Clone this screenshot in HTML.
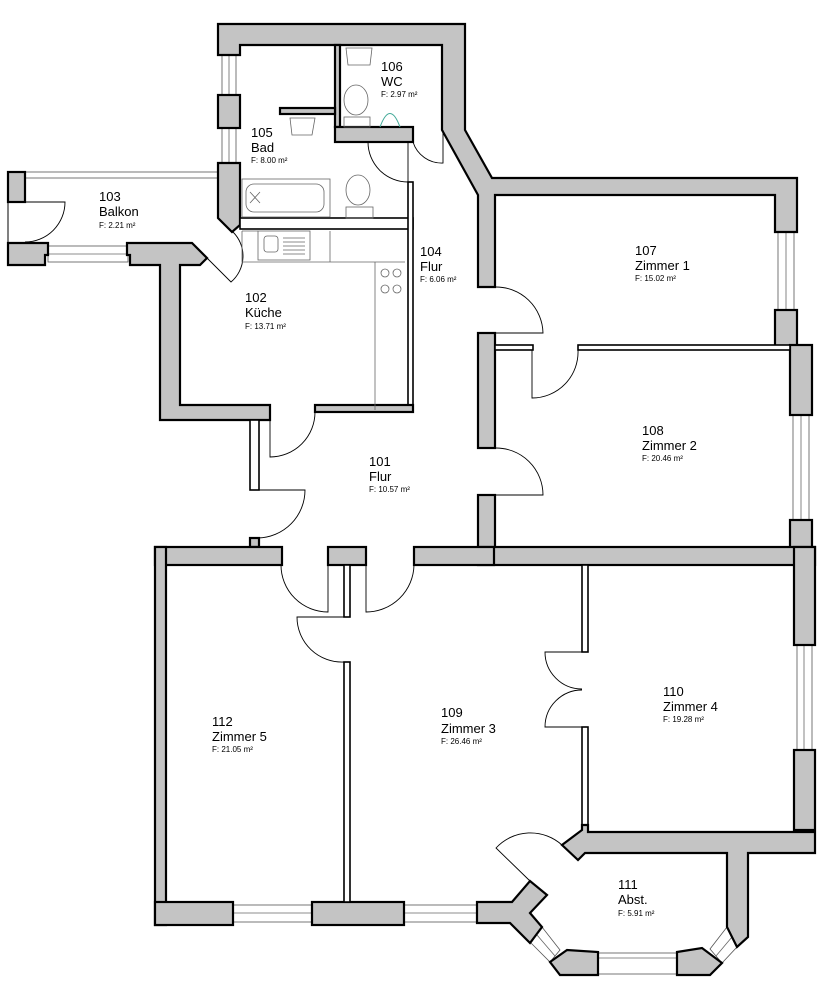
<!DOCTYPE html>
<html><head><meta charset="utf-8"><style>
html,body{margin:0;padding:0;background:#fff;}
svg{display:block}
.w{fill:#c4c4c4;stroke:#000;stroke-width:2.2;stroke-linejoin:miter}
.t{fill:#fff;stroke:#000;stroke-width:1.6}
.win{fill:#fff;stroke:#555;stroke-width:0.8}
.d{fill:none;stroke:#000;stroke-width:0.9}
.f{fill:none;stroke:#666;stroke-width:0.8}
text{font-family:"Liberation Sans",sans-serif;fill:#000}
.n{font-size:13px}
.a{font-size:8px}
</style></head><body>
<svg width="830" height="1000" viewBox="0 0 830 1000">
<!-- windows -->
<rect class="win" x="222" y="55" width="14" height="40"/><line class="f" x1="229" y1="55" x2="229" y2="95"/>
<rect class="win" x="222" y="128" width="14" height="35"/><line class="f" x1="229" y1="128" x2="229" y2="163"/>
<rect class="win" x="25" y="172" width="193" height="6"/>
<rect class="win" x="48" y="246" width="80" height="16"/><line class="f" x1="48" y1="254" x2="128" y2="254"/>
<rect class="win" x="778" y="232" width="16" height="78"/><line class="f" x1="786" y1="232" x2="786" y2="310"/>
<rect class="win" x="793" y="415" width="16" height="105"/><line class="f" x1="801" y1="415" x2="801" y2="520"/>
<rect class="win" x="797" y="645" width="15" height="105"/><line class="f" x1="804" y1="645" x2="804" y2="750"/>
<rect class="win" x="233" y="905" width="79" height="17"/><line class="f" x1="233" y1="913" x2="312" y2="913"/>
<rect class="win" x="404" y="905" width="76" height="17"/><line class="f" x1="404" y1="913" x2="480" y2="913"/>
<rect class="win" x="598" y="953" width="79" height="21"/><line class="f" x1="598" y1="958" x2="677" y2="958"/>
<polygon class="win" points="542,927 531,943 550,962 560,950"/>
<line class="f" x1="537" y1="935" x2="555" y2="956"/>
<polygon class="win" points="727,927 737,947 722,963 710,949"/>
<line class="f" x1="732" y1="937" x2="716" y2="956"/>
<line x1="8" y1="202" x2="8" y2="243" stroke="#000" stroke-width="1"/>

<!-- walls top -->
<polygon class="w" points="218,24 465,24 465,130 492,178 797,178 797,232 775,232 775,195 495,195 495,287 478,287 478,195 442,130 442,45 240,45 240,55 218,55"/>
<rect class="w" x="218" y="95" width="22" height="33"/>
<polygon class="w" points="218,163 240,163 240,225 232,232 218,218"/>
<rect class="w" x="335" y="45" width="5" height="82"/>
<rect class="w" x="335" y="127" width="78" height="15"/>
<rect class="w" x="280" y="108" width="55" height="6"/>
<rect class="t" x="240" y="218" width="173" height="11"/>
<rect class="t" x="408" y="182" width="5" height="228"/>
<rect class="w" x="8" y="172" width="17" height="30"/>
<polygon class="w" points="8,243 48,243 48,255 45,255 45,265 8,265"/>
<polygon class="w" points="127,243 192,243 207,258 200,265 180,265 180,405 270,405 270,420 160,420 160,265 130,265 130,255 127,255"/>
<rect class="w" x="315" y="405" width="98" height="7"/>
<rect class="t" x="250" y="420" width="9" height="70"/>
<rect class="w" x="250" y="538" width="9" height="9"/>
<rect class="w" x="478" y="333" width="17" height="115"/>
<rect class="w" x="478" y="495" width="17" height="53"/>
<rect class="w" x="775" y="310" width="22" height="38"/>
<rect class="w" x="790" y="345" width="22" height="70"/>
<rect class="t" x="495" y="345" width="38" height="5"/>
<rect class="t" x="578" y="345" width="212" height="5"/>
<rect class="w" x="790" y="520" width="22" height="28"/>
<!-- lower -->
<rect class="w" x="478" y="547" width="337" height="18"/>
<rect class="w" x="155" y="547" width="127" height="18"/>
<rect class="w" x="328" y="547" width="38" height="18"/>
<rect class="w" x="414" y="547" width="80" height="18"/>
<rect class="w" x="794" y="547" width="21" height="98"/>
<rect class="w" x="155" y="547" width="11" height="378"/>
<rect class="w" x="155" y="902" width="78" height="23"/>
<rect class="w" x="312" y="902" width="92" height="23"/>
<rect class="t" x="344" y="565" width="6" height="52"/>
<rect class="t" x="344" y="662" width="6" height="240"/>
<rect class="t" x="582" y="565" width="6" height="87"/>
<rect class="t" x="582" y="727" width="6" height="103"/>
<rect class="w" x="794" y="750" width="21" height="80"/>
<polygon class="w" points="582,825 588,825 588,832 815,832 815,853 748,853 748,937 737,947 727,927 727,853 585,853 578,860 562,845 582,830"/>
<polygon class="w" points="477,902 512,902 530,881 547,895 530,913 542,927 530,943 510,923 477,923"/>
<polygon class="w" points="550,962 567,950 598,952 598,975 560,975"/>
<polygon class="w" points="677,952 702,948 722,963 710,975 677,975"/>

<!-- doors -->
<path class="d" d="M443,130 V163 A30 30 0 0 1 413,142"/>
<path class="d" d="M408,142 V182 A40 40 0 0 1 368,142"/>
<path class="d" d="M25,202 H65 A40 40 0 0 1 25,242"/>
<path class="d" d="M207,258 L231,282 A34 34 0 0 0 233,232"/>
<path class="d" d="M495,287 A47 47 0 0 1 543,333 H495"/>
<path class="d" d="M532,350 V398 A46 46 0 0 0 578,350"/>
<path class="d" d="M495,448 A47 47 0 0 1 543,495 H495"/>
<path class="d" d="M270,412 V457 A45 45 0 0 0 315,412"/>
<path class="d" d="M258,490 H305 A48 48 0 0 1 258,538"/>
<path class="d" d="M328,565 V612 A47 47 0 0 1 281,565"/>
<path class="d" d="M366,565 V612 A48 48 0 0 0 414,565"/>
<path class="d" d="M344,617 H297 A45 45 0 0 0 344,662"/>
<path class="d" d="M582,652 H545 A37 37 0 0 0 582,689 M582,727 H545 A37 37 0 0 1 582,690"/>
<path class="d" d="M530,881 L496,848 A47 47 0 0 1 562,845"/>

<!-- fixtures -->
<path class="f" d="M242,231 H258 M242,231 V262 H375 V410 M375,262 H405 M330,231 V262"/>
<rect class="f" x="258" y="231" width="52" height="29"/>
<rect class="f" x="264" y="236" width="14" height="16" rx="3"/>
<path class="f" d="M283,238 H305 M283,242 H305 M283,246 H305 M283,250 H305 M283,254 H305"/>
<circle class="f" cx="385" cy="273" r="4"/><circle class="f" cx="397" cy="273" r="4"/>
<circle class="f" cx="385" cy="289" r="4"/><circle class="f" cx="397" cy="289" r="4"/>
<rect class="f" x="242" y="179" width="88" height="38"/>
<rect class="f" x="246" y="184" width="78" height="28" rx="8"/>
<path class="f" d="M250,192 L260,203 M260,192 L250,203"/>
<path class="f" d="M290,118 H315 L312,135 H292 Z"/>
<ellipse class="f" cx="358" cy="190" rx="12" ry="15"/><rect class="f" x="346" y="207" width="27" height="11"/>
<path class="f" d="M346,48 H372 L370,65 H348 Z"/>
<ellipse class="f" cx="356" cy="100" rx="12" ry="15"/><rect class="f" x="344" y="117" width="26" height="10"/>
<path d="M380,127 Q390,100 400,127" fill="none" stroke="#4a9" stroke-width="1"/>

<!-- labels -->
<text class="n" x="381" y="71">106</text><text class="n" x="381" y="86">WC</text><text class="a" x="381" y="97">F:  2.97  m²</text>
<text class="n" x="251" y="137">105</text><text class="n" x="251" y="152">Bad</text><text class="a" x="251" y="163">F:  8.00  m²</text>
<text class="n" x="99" y="201">103</text><text class="n" x="99" y="216">Balkon</text><text class="a" x="99" y="228">F:  2.21  m²</text>
<text class="n" x="420" y="256">104</text><text class="n" x="420" y="271">Flur</text><text class="a" x="420" y="282">F:  6.06  m²</text>
<text class="n" x="245" y="302">102</text><text class="n" x="245" y="317">Küche</text><text class="a" x="245" y="329">F:  13.71  m²</text>
<text class="n" x="635" y="255">107</text><text class="n" x="635" y="270">Zimmer 1</text><text class="a" x="635" y="281">F:  15.02  m²</text>
<text class="n" x="642" y="435">108</text><text class="n" x="642" y="450">Zimmer 2</text><text class="a" x="642" y="461">F:  20.46  m²</text>
<text class="n" x="369" y="466">101</text><text class="n" x="369" y="481">Flur</text><text class="a" x="369" y="492">F:  10.57  m²</text>
<text class="n" x="212" y="726">112</text><text class="n" x="212" y="741">Zimmer 5</text><text class="a" x="212" y="752">F:  21.05  m²</text>
<text class="n" x="441" y="717">109</text><text class="n" x="441" y="733">Zimmer 3</text><text class="a" x="441" y="744">F:  26.46  m²</text>
<text class="n" x="663" y="696">110</text><text class="n" x="663" y="711">Zimmer 4</text><text class="a" x="663" y="722">F:  19.28  m²</text>
<text class="n" x="618" y="889">111</text><text class="n" x="618" y="904">Abst.</text><text class="a" x="618" y="916">F:  5.91  m²</text>
</svg>
</body></html>
